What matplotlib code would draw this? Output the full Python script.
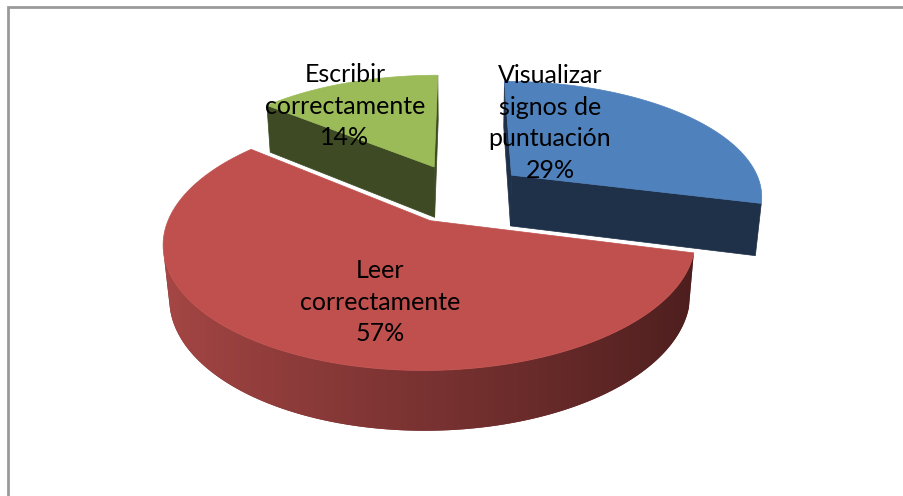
import numpy as np
import matplotlib.pyplot as plt
from matplotlib.patches import Polygon
from matplotlib.colors import to_rgb

labels = ['Visualizar\nsignos de\npuntuación', 'Leer\ncorrectamente', 'Escribir\ncorrectamente']
values = [29, 57, 14]

top_colors = ['#4F81BD', '#C0504D', '#9BBB59']
side_light = ['#3A5A85', '#A84846', '#56662F']
side_dark = ['#1F3049', '#4B1D1D', '#3D4A23']
cut_colors = ['#1F3049', '#4B1D1D', '#3D4A23']
label_pos = [(550, 123), (380, 302), (345, 106)]  # label centres in pixels

# view settings (pixels)
PHI = np.radians(27.1)
DIST = 5.39
SCALE = 252
CX, CY = 461, 193
EXPLODE = 0.26
THICK = 0.235

cam = np.array([0, -DIST * np.cos(PHI), DIST * np.sin(PHI)])


def project(X, Y, Z):
    X, Y = np.asarray(X, float), np.asarray(Y, float)
    Z = np.broadcast_to(np.asarray(Z, float), X.shape)
    v = Y * np.sin(PHI) + Z * np.cos(PHI)
    d = Y * np.cos(PHI) - Z * np.sin(PHI)
    s = DIST / (DIST + d)
    return np.column_stack([CX + SCALE * X * s, CY - SCALE * v * s])


def visible(p, n):
    return np.dot(n, cam - p) > 0


def lerp(c1, c2, t):
    a, b = np.array(to_rgb(c1)), np.array(to_rgb(c2))
    return a + (b - a) * t


fig = plt.figure(figsize=(9.04, 4.96), dpi=100)
ax = fig.add_axes([0, 0, 1, 1])

# chart area border (only left and top edges are inside the picture)
ax.plot([8, 8, 904], [496, 7, 7], color='#9A9A9A', lw=2, solid_joinstyle='miter')

total = sum(values)
cum = np.concatenate([[0], np.cumsum(values)]) / total * 360
slices = []
for i in range(len(values)):
    a0, a1 = cum[i], cum[i + 1]
    mid = np.radians((a0 + a1) / 2)
    slices.append((i, a0, a1, EXPLODE * np.sin(mid), EXPLODE * np.cos(mid)))

# far slices first
slices.sort(key=lambda s: -s[4])

z = 2
for i, a0, a1, ox, oy in slices:
    n = max(int(a1 - a0) * 2, 8)
    th = np.radians(np.linspace(a0, a1, n))
    ax_x = ox + np.sin(th)
    ax_y = oy + np.cos(th)

    # radial cut faces
    for ang, sign in ((a0, -1), (a1, 1)):
        r = np.radians(ang)
        nrm = np.array([np.sin(r + sign * np.pi / 2), np.cos(r + sign * np.pi / 2), 0])
        ex, ey = ox + np.sin(r), oy + np.cos(r)
        p = np.array([(ox + ex) / 2, (oy + ey) / 2, -THICK / 2])
        if visible(p, nrm):
            pts = project([ox, ex, ex, ox], [oy, ey, ey, oy], [0, 0, -THICK, -THICK])
            ax.add_patch(Polygon(pts, closed=True, facecolor=cut_colors[i],
                                 edgecolor=cut_colors[i], lw=0.5, zorder=z))
            z += 1

    # outer curved side, shaded with a gradient
    vis = [k for k in range(n - 1)
           if visible(np.array([ox + np.sin((th[k] + th[k + 1]) / 2),
                                oy + np.cos((th[k] + th[k + 1]) / 2), -THICK / 2]),
                      np.array([np.sin((th[k] + th[k + 1]) / 2),
                                np.cos((th[k] + th[k + 1]) / 2), 0]))]
    if vis:
        k0, k1 = vis[0], vis[-1] + 1
        top_pts = project(ax_x[k0:k1 + 1], ax_y[k0:k1 + 1], 0)
        bot_pts = project(ax_x[k0:k1 + 1], ax_y[k0:k1 + 1], -THICK)
        outline = np.vstack([top_pts, bot_pts[::-1]])
        tvals = (1 + np.sin(th[k0:k1 + 1])) / 2
        mid_col = lerp(side_light[i], side_dark[i], tvals.mean())
        base = Polygon(outline, closed=True, facecolor=mid_col, edgecolor='none', zorder=z)
        ax.add_patch(base)
        z += 1
        xmin, xmax = outline[:, 0].min(), outline[:, 0].max()
        ymin, ymax = outline[:, 1].min(), outline[:, 1].max()
        xgrid = np.linspace(xmin, xmax, 400)
        order = np.argsort(top_pts[:, 0])
        tg = np.interp(xgrid, top_pts[order, 0], tvals[order])
        img = np.array([lerp(side_light[i], side_dark[i], t) for t in tg])[np.newaxis]
        im = ax.imshow(img, extent=[xmin, xmax, ymax, ymin], aspect='auto',
                       interpolation='bilinear', zorder=z)
        im.set_clip_path(base)
        z += 1

    # top face
    pts = project(np.r_[ox, ax_x], np.r_[oy, ax_y], 0)
    ax.add_patch(Polygon(pts, closed=True, facecolor=top_colors[i],
                         edgecolor=top_colors[i], lw=0.5, zorder=z))
    z += 1

for i in range(len(values)):
    x, y = label_pos[i]
    ax.text(x, y, f'{labels[i]}\n{values[i]}%', ha='center', va='center',
            multialignment='center', fontsize=18, family='Lato',
            linespacing=1.45, color='black', zorder=z)

ax.set_xlim(0, 904)
ax.set_ylim(496, 0)
ax.axis('off')

fig.savefig('out.png', dpi=100)
